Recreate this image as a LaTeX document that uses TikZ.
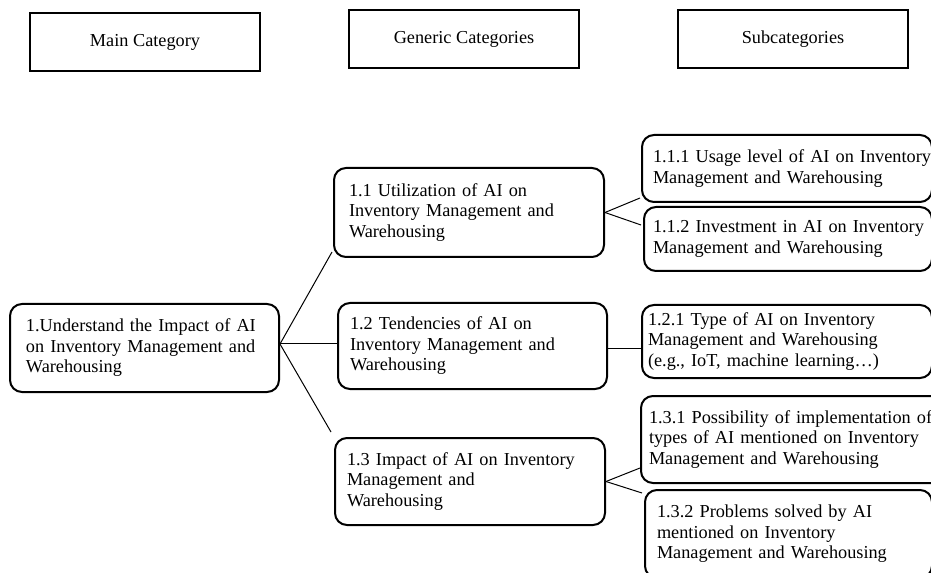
\documentclass[tikz,border=0pt]{standalone}
\usepackage{fontspec}
\setmainfont{Liberation Serif}
\usetikzlibrary{calc}
\newcommand{\cardline}[1]{\mbox{#1}}
\begin{document}
\begin{tikzpicture}[x=0.75pt,y=-0.75pt,
  every node/.style={font=\fontsize{13.7}{15.4}\selectfont},
  head/.style={draw, line width=1.5pt, minimum width=172.5pt, minimum height=43.5pt,
    anchor=north west, inner sep=0pt},
  card/.style={draw, line width=1.5pt, rounded corners=9pt, anchor=north west,
    align=left, inner ysep=0pt},
  link/.style={line width=0.75pt}]
\useasboundingbox (0,0) rectangle (931,573);
\clip (0,0) rectangle (931,573);

% column headings
\node[head] (hmain) at (29,12)  {Main Category};
\node[head] (hgen)  at (348,9)  {Generic Categories};
\node[head] (hsub)  at (677,9)  {Subcategories};

% main category
\node[card, minimum height=66pt, text width=177.75pt, inner xsep=12pt] (m) at (9,303)
  {\cardline{1.Understand the Impact of AI}\\\cardline{on Inventory Management and}\\\cardline{Warehousing}};

% generic categories
\node[card, minimum height=66.75pt, text width=180pt, inner xsep=11.25pt] (g1) at (333,167)
  {\cardline{1.1 Utilization of AI on}\\\cardline{Inventory Management and}\\\cardline{Warehousing}};
\node[card, minimum height=64.5pt, text width=183.75pt, inner xsep=9pt] (g2) at (337,302)
  {\cardline{1.2 Tendencies of AI on}\\\cardline{Inventory Management and}\\\cardline{Warehousing}};
\node[card, minimum height=65.25pt, text width=184.5pt, inner xsep=9pt] (g3) at (334,437)
  {\cardline{1.3 Impact of AI on Inventory}\\\cardline{Management and}\\\cardline{Warehousing}};

% subcategories
\node[card, minimum height=50.25pt, text width=201pt, inner xsep=8.25pt] (s111) at (641,134)
  {\cardline{1.1.1 Usage level of AI on Inventory}\\\cardline{Management and Warehousing}};
\node[card, minimum height=48pt, text width=202.5pt, inner xsep=6.75pt] (s112) at (643,206)
  {\cardline{1.1.2 Investment in AI on Inventory}\\\cardline{Management and Warehousing}};
\node[card, minimum height=54.75pt, text width=208.5pt, inner xsep=4.5pt] (s121) at (641,304)
  {\cardline{1.2.1 Type of AI on Inventory}\\\cardline{Management and Warehousing}\\\cardline{(e.g., IoT, machine learning…)}};
\node[card, minimum height=65.25pt, text width=220.5pt, inner xsep=6pt] (s131) at (640,395)
  {\cardline{1.3.1 Possibility of implementation of}\\\cardline{types of AI mentioned on Inventory}\\\cardline{Management and Warehousing}};
\node[card, minimum height=66pt, text width=197.25pt, inner xsep=9pt] (s132) at (644,489)
  {\cardline{1.3.2 Problems solved by AI}\\\cardline{mentioned on Inventory}\\\cardline{Management and Warehousing}};

% connectors
\coordinate (mo) at ($(m.east)+(0,-4)$);
\draw[link] (mo) -- ($(g1.south west)+(-1,-6)$);
\draw[link] (mo) -- (mo -| g2.west);
\draw[link] (mo) -- ($(g3.north west)+(-3,-5)$);

\draw[link] (g1.east) -- ($(s111.south west)+(-1,-5)$);
\draw[link] (g1.east) -- ($(s112.north west)+(-2,19)$);

\coordinate (g2o) at ($(g2.east)+(0,3)$);
\draw[link] (g2o) -- (g2o -| s121.west);

\draw[link] (g3.east) -- ($(s131.south west)+(0,-16)$);
\draw[link] (g3.east) -- ($(s132.north west)+(-2,4)$);
\end{tikzpicture}
\end{document}
